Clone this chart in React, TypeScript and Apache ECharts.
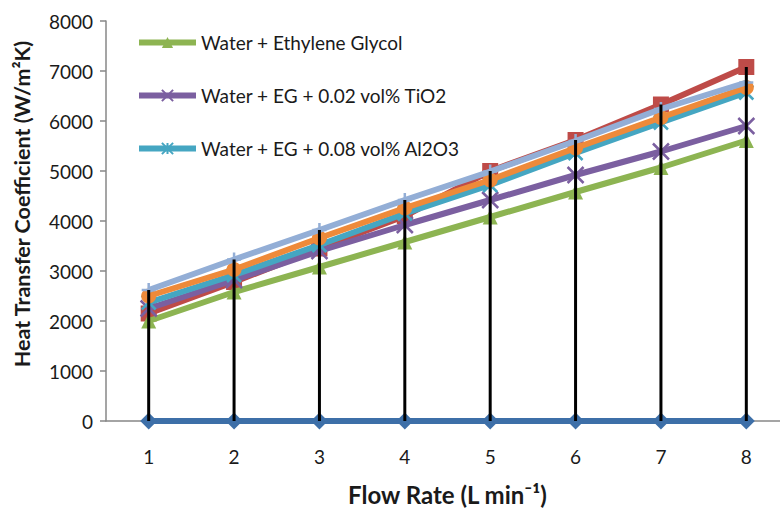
import React, { useEffect, useRef } from "react";
import * as echarts from "echarts";

const flowRates = ["1", "2", "3", "4", "5", "6", "7", "8"];
const baseline = [0, 0, 0, 0, 0, 0, 0, 0];
const seriesRed = [2150, 2780, 3450, 4100, 5000, 5620, 6330, 7080];
const waterEG = [2000, 2580, 3080, 3580, 4080, 4580, 5070, 5610];
const tio2 = [2250, 2820, 3400, 3920, 4420, 4920, 5390, 5900];
const al2o3 = [2370, 2920, 3520, 4150, 4720, 5360, 5970, 6570];
const seriesOrange = [2500, 3030, 3660, 4260, 4820, 5460, 6070, 6670];
const seriesLightBlue = [2620, 3230, 3820, 4420, 4990, 5600, 6240, 6770];

const yTicks = { min: 0, max: 8000, interval: 1000 };

const allSeries = [baseline, seriesRed, waterEG, tio2, al2o3, seriesOrange, seriesLightBlue];
const highs = flowRates.map((_, i) => Math.max(...allSeries.map((s) => s[i])));

const FONT = "Lato";

const xPath = "path://M0 0 L10 10 M10 0 L0 10";
const plusPath = "path://M5 0 L5 10 M0 5 L10 5";
const starPath = "path://M0 0 L10 10 M10 0 L0 10 M5 0 L5 10";

export default function App() {
  const ref = useRef<HTMLDivElement>(null);
  useEffect(() => {
    if (!ref.current) return;
    const chart = echarts.init(ref.current, null, { renderer: "svg" });
    const lineSeries = (
      name: string,
      data: number[],
      color: string,
      symbol: string,
      symbolSize: number,
      stroked: boolean,
      z: number
    ) => ({
      type: "line",
      name,
      data,
      z,
      symbol,
      symbolSize,
      showSymbol: true,
      lineStyle: { color, width: 6 },
      itemStyle: stroked
        ? { color: "rgba(0,0,0,0)", borderColor: color, borderWidth: 2.5 }
        : { color, borderColor: color, borderWidth: 0 },
      emphasis: { disabled: true },
    });
    const legendBase = {
      orient: "vertical",
      left: 131,
      itemWidth: 57,
      itemHeight: 14,
      itemGap: 4,
      lineStyle: { width: 6 },
      textStyle: { fontFamily: FONT, fontSize: 19, color: "#1a1a1a" },
      selectedMode: false,
    };
    chart.setOption({
      animation: false,
      backgroundColor: "#ffffff",
      grid: {
        left: 106,
        right: -9,
        top: 21,
        bottom: 87,
        containLabel: false,
        outerBoundsMode: "none",
      },
      legend: [
        { ...legendBase, top: 28, data: ["Water + Ethylene Glycol"] },
        { ...legendBase, top: 81, data: ["Water + EG + 0.02 vol% TiO2"] },
        { ...legendBase, top: 134, data: ["Water + EG + 0.08 vol% Al2O3"] },
      ],
      graphic: [
        {
          type: "text",
          x: 22,
          y: 204,
          rotation: Math.PI / 2,
          style: {
            text: "Heat Transfer Coefficient (W/m\u00B2K)",
            font: `bold 21.5px ${FONT}`,
            fill: "#1a1a1a",
            align: "center",
            verticalAlign: "middle",
          },
        },
      ],
      xAxis: {
        type: "category",
        data: flowRates,
        boundaryGap: true,
        axisLine: { show: true, lineStyle: { color: "#878787", width: 1.5 } },
        axisTick: { show: false },
        axisLabel: { fontFamily: FONT, fontSize: 19, color: "#1a1a1a", margin: 26 },
        name: "Flow Rate (L min\u207B\u00B9)",
        nameLocation: "middle",
        nameGap: 61,
        nameTextStyle: { fontFamily: FONT, fontSize: 24, fontWeight: "bold", color: "#1a1a1a" },
      },
      yAxis: {
        type: "value",
        min: yTicks.min,
        max: yTicks.max,
        interval: yTicks.interval,
        splitLine: { show: false },
        axisLine: { show: true, lineStyle: { color: "#878787", width: 1.5 } },
        axisTick: { show: true, length: 6, lineStyle: { color: "#878787", width: 1.5 } },
        axisLabel: {
          fontFamily: FONT,
          fontSize: 19,
          color: "#1a1a1a",
          margin: 13,
          formatter: (v: number) => String(v),
        },
      },
      series: [
        lineSeries("Baseline", baseline, "#3D6FA8", "diamond", 17, false, 2),
        lineSeries("Series 2", seriesRed, "#BE4B48", "rect", 16, false, 3),
        lineSeries("Water + Ethylene Glycol", waterEG, "#8DB452", "triangle", 15, false, 4),
        lineSeries("Water + EG + 0.02 vol% TiO2", tio2, "#7B5FA0", xPath, 16, true, 5),
        lineSeries("Water + EG + 0.08 vol% Al2O3", al2o3, "#45A6C2", starPath, 14, true, 6),
        lineSeries("Series 6", seriesOrange, "#EE8A3A", "circle", 15, false, 7),
        lineSeries("Series 7", seriesLightBlue, "#93AED6", plusPath, 14, true, 8),
        {
          type: "bar",
          name: "High-Low",
          data: highs,
          barWidth: 3,
          z: 10,
          itemStyle: { color: "#000000" },
          emphasis: { disabled: true },
        },
      ],
    });
    return () => chart.dispose();
  }, []);
  return <div ref={ref} style={{ width: 780, height: 508, position: "absolute", left: 0, top: 0 }} />;
}
